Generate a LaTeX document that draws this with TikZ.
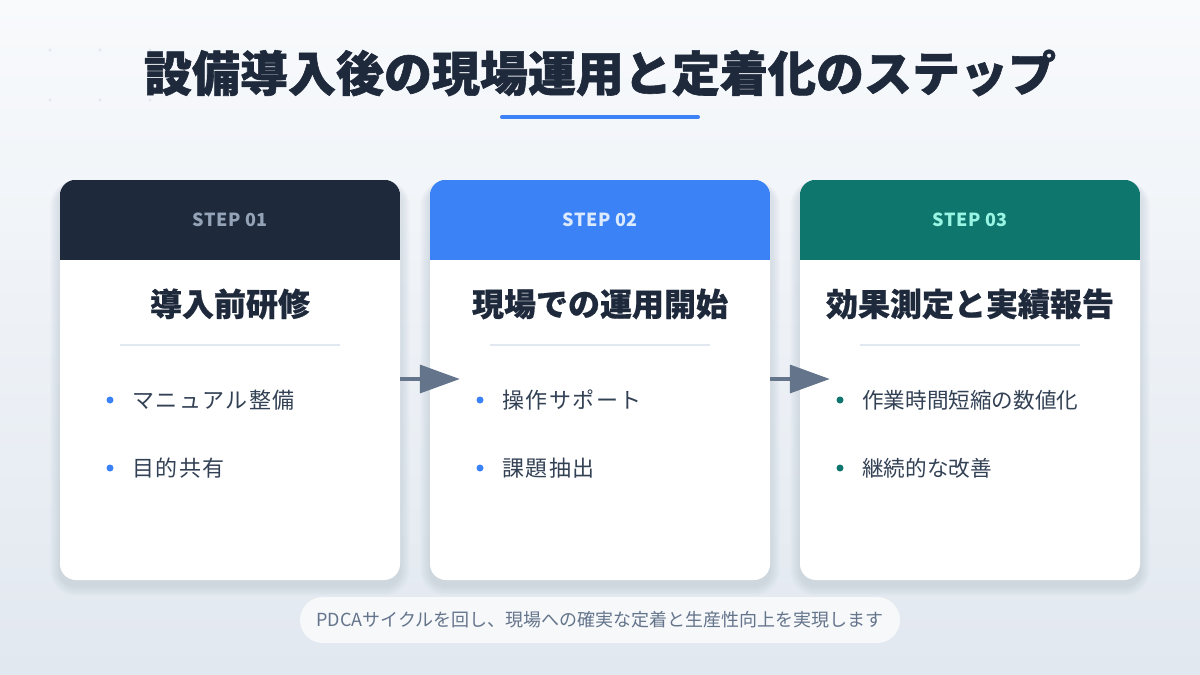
\documentclass[tikz,border=0pt]{standalone}
\usepackage{fontspec}
\setmainfont{Noto Sans CJK JP}
\usetikzlibrary{arrows.meta,calc}
\definecolor{bgtop}{HTML}{F8FAFC}
\definecolor{bgbot}{HTML}{E2E8F0}
\definecolor{ink}{HTML}{1E293B}
\definecolor{body}{HTML}{334155}
\definecolor{muted}{HTML}{64748B}
\definecolor{navy}{HTML}{1E293B}
\definecolor{blue}{HTML}{3B82F6}
\definecolor{teal}{HTML}{0F766E}
\definecolor{lbl1}{HTML}{94A3B8}
\definecolor{lbl2}{HTML}{DBEAFE}
\definecolor{lbl3}{HTML}{99F6E4}
\definecolor{divcol}{HTML}{E2E8F0}
\definecolor{dotcol}{HTML}{E2E8F0}
\definecolor{shadowcol}{HTML}{334155}
\tikzset{
  card/.style={minimum width=340pt, minimum height=400pt, rounded corners=16pt, fill=white, inner sep=0pt},
  steplabel/.style={font=\bfseries\fontsize{18}{20}\selectfont\addfontfeatures{LetterSpace=3}},
  cardtitle/.style={font=\bfseries\fontsize{32}{36}\selectfont\addfontfeatures{FakeBold=0.6}, text=ink},
  divider/.style={draw=divcol, line width=1.2pt},
  item/.style={anchor=west, font=\fontsize{22}{24}\selectfont\addfontfeatures{LetterSpace=7}, text=body, inner sep=0pt},
  itemb/.style={anchor=west, font=\fontsize{21.6}{24}\selectfont, text=body, inner sep=0pt},
  flow/.style={draw=muted, line width=3.5pt, -{Triangle[length=40pt,width=28pt]}},
  pill/.style={minimum width=600pt, minimum height=46pt, rounded corners=23pt, fill=white, fill opacity=0.7, text opacity=1,
    font=\fontsize{18}{20}\selectfont, text=muted, inner sep=0pt},
}
\begin{document}
\begin{tikzpicture}[x=1pt,y=-1pt]
\useasboundingbox (0,0) rectangle (1200,675);
\shade[top color=bgtop, bottom color=bgbot] (0,0) rectangle (1200,675);
% faint dots
\foreach \dx in {50,100,150}{\foreach \dy in {50,100}{\fill[dotcol] (\dx,\dy) circle (1.6pt);}}
% title
\node[font=\bfseries\fontsize{48}{52}\selectfont\addfontfeatures{FakeBold=1.2}, text=ink] (title) at (600,73) {設備導入後の現場運用と定着化のステップ};
\draw[blue, line width=4pt, line cap=round] (502,117) -- (698,117);
% card shadows
\foreach \cx in {230,600,970}{
  \foreach \i in {1,...,10}{
    \pgfmathsetmacro{\rr}{16+\i}
    \fill[shadowcol, opacity=0.013, rounded corners=\rr pt] (\cx-170-\i,180+6-\i*0.6) rectangle (\cx+170+\i,580+6+\i);
  }
}
% cards
\node[card] (c1) at (230,380) {};
\node[card] (c2) at (600,380) {};
\node[card] (c3) at (970,380) {};
\foreach \c/\col in {c1/navy,c2/blue,c3/teal}{
  \begin{scope}
    \clip[rounded corners=16pt] (\c.south west) rectangle (\c.north east);
    \fill[\col] (\c.north west) rectangle ($(\c.north east)+(0,80)$);
  \end{scope}
}
% step labels
\node[steplabel, text=lbl1] (s1) at (230,220) {STEP 01};
\node[steplabel, text=lbl2] (s2) at (600,220) {STEP 02};
\node[steplabel, text=lbl3] (s3) at (970,220) {STEP 03};
% titles
\node[cardtitle] (t1) at (230,304) {導入前研修};
\node[cardtitle] (t2) at (600,304) {現場での運用開始};
\node[cardtitle] (t3) at (970,304) {効果測定と実績報告};
% dividers
\draw[divider] (120,345) -- (340,345);
\draw[divider] (490,345) -- (710,345);
\draw[divider] (860,345) -- (1080,345);
% bullets card 1
\fill[blue] (110,400) circle (3.5pt);
\node[item] (b11) at (132,400) {マニュアル整備};
\fill[blue] (110,468) circle (3.5pt);
\node[item] (b12) at (132,468) {目的共有};
% bullets card 2
\fill[blue] (480,400) circle (3.5pt);
\node[item] (b21) at (502,400) {操作サポート};
\fill[blue] (480,468) circle (3.5pt);
\node[item] (b22) at (502,468) {課題抽出};
% bullets card 3
\fill[teal] (840,400) circle (3.5pt);
\node[itemb] (b31) at (862,400) {作業時間短縮の数値化};
\fill[teal] (840,468) circle (3.5pt);
\node[itemb] (b32) at (862,468) {継続的な改善};
% arrows
\coordinate (a1) at ($(c2.west)+(30,-1)$);
\coordinate (a2) at ($(c3.west)+(30,-1)$);
\draw[flow] ($(c1.east)+(0,-1)$) -- (a1);
\draw[flow] ($(c2.east)+(0,-1)$) -- (a2);
% footer
\node[pill] (foot) at (600,620) {PDCAサイクルを回し、現場への確実な定着と生産性向上を実現します};
\end{tikzpicture}
\end{document}
